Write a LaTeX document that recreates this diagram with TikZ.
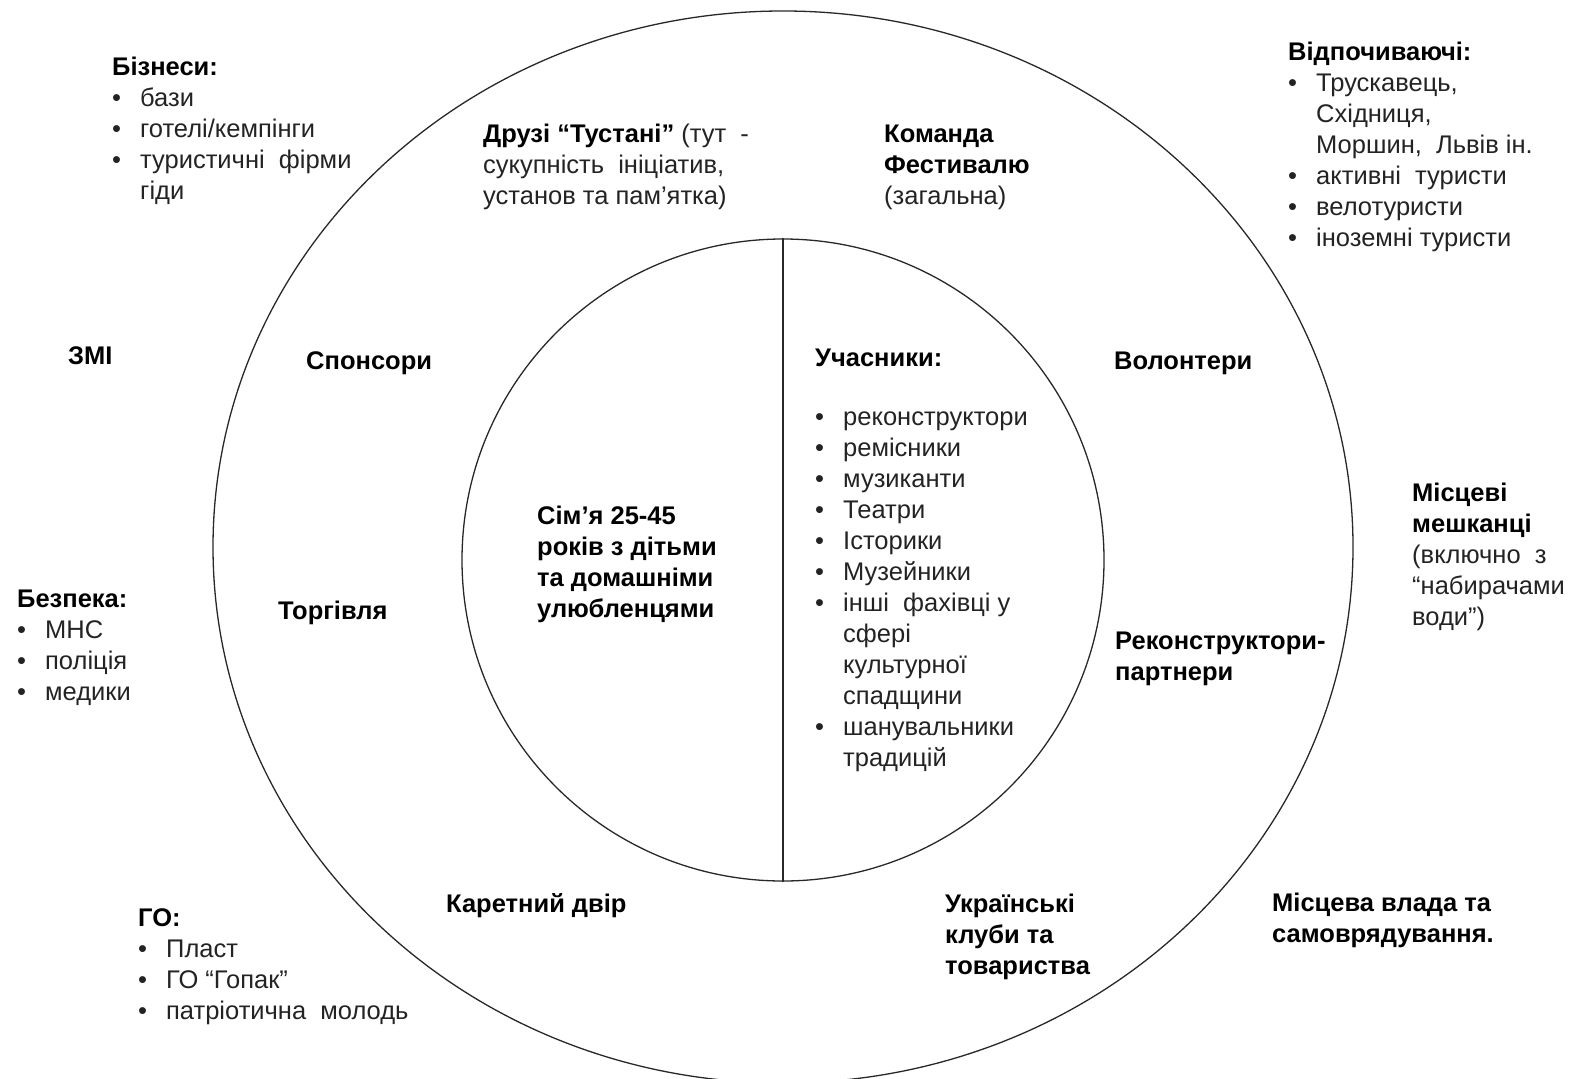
\documentclass[tikz,border=0pt]{standalone}
\usepackage{fontspec}
\setmainfont{Liberation Sans}
\usetikzlibrary{shapes.geometric}
\definecolor{ringcolor}{RGB}{40, 40, 40}
\definecolor{labelcolor}{RGB}{0, 0, 0}
\definecolor{itemcolor}{RGB}{35, 35, 35}
\newcommand{\itm}[1]{\makebox[28pt][l]{\textbullet}#1}
\newcommand{\cont}[1]{\hspace*{28pt}#1}
\newcommand{\lines}[1]{\begin{tabular}[t]{@{}l@{}}#1\end{tabular}}
\tikzset{
grouptext/.style={
  anchor=base west,
  inner sep=0pt,
  font=\fontsize{25.5}{31}\selectfont,
  text=itemcolor
},
headtext/.style={
  grouptext,
  font=\fontsize{25.5}{31}\selectfont\bfseries,
  text=labelcolor
},
ring/.style={
  draw=ringcolor,
  line width=1.3pt,
  inner sep=0pt
}
}

\begin{document}
\begin{tikzpicture}[x=1pt, y=-1pt]
  \useasboundingbox (0,0) rectangle (1570,1078);

  % rings
  \node[ring, ellipse, minimum width=1140pt, minimum height=1072pt] (outer) at (783,547) {};
  \node[ring, circle, minimum size=642pt] (inner) at (783,560) {};
  \draw[ring] (inner.north) -- (inner.south);

  % centre
  \node[headtext] (family) at (537,524) {\lines{Сім’я 25-45\\років з дітьми\\та домашніми\\улюбленцями}};
  \node[grouptext] (members) at (815,366) {\lines{\textbf{\color{labelcolor}Учасники:}\\[28pt]
    \itm{реконструктори}\\ \itm{ремісники}\\ \itm{музиканти}\\ \itm{Театри}\\
    \itm{Історики}\\ \itm{Музейники}\\ \itm{інші\ \ фахівці у}\\ \cont{сфері}\\
    \cont{культурної}\\ \cont{спадщини}\\ \itm{шанувальники}\\ \cont{традицій}}};

  % middle ring
  \node[grouptext] (friends) at (483,143) {\lines{\textbf{\color{labelcolor}Друзі “Тустані”} (тут\ \ -\\сукупність\ \ ініціатив,\\установ та пам’ятка)}};
  \node[grouptext] (team) at (884,143) {\lines{\textbf{\color{labelcolor}Команда}\\\textbf{\color{labelcolor}Фестивалю}\\(загальна)}};
  \node[headtext] (sponsors) at (306,369) {Спонсори};
  \node[headtext] (volunteers) at (1114,369) {Волонтери};
  \node[headtext] (trade) at (278,619) {Торгівля};
  \node[headtext] (reenact) at (1115,649) {\lines{Реконструктори-\\партнери}};
  \node[headtext] (yard) at (446,912) {Каретний двір};
  \node[headtext] (clubs) at (945,912) {\lines{Українські\\клуби та\\товариства}};

  % outside
  \node[grouptext] (biz) at (112,76) {\lines{\textbf{\color{labelcolor}Бізнеси:}\\ \itm{бази}\\ \itm{готелі/кемпінги}\\ \itm{туристичні\ \ фірми}\\ \cont{гіди}}};
  \node[grouptext] (rest) at (1288,61) {\lines{\textbf{\color{labelcolor}Відпочиваючі:}\\ \itm{Трускавець,}\\ \cont{Східниця,}\\ \cont{Моршин,\ \ Львів ін.}\\ \itm{активні\ \ туристи}\\ \itm{велотуристи}\\ \itm{іноземні туристи}}};
  \node[headtext] (media) at (68,364) {ЗМІ};
  \node[grouptext] (locals) at (1412,501) {\lines{\textbf{\color{labelcolor}Місцеві}\\\textbf{\color{labelcolor}мешканці}\\(включно\ \ з\\“набирачами\\води”)}};
  \node[grouptext] (safety) at (17,607) {\lines{\textbf{\color{labelcolor}Безпека:}\\ \itm{МНС}\\ \itm{поліція}\\ \itm{медики}}};
  \node[headtext] (gov) at (1272,911) {\lines{Місцева влада та\\самоврядування.}};
  \node[grouptext] (ngo) at (138,926) {\lines{\textbf{\color{labelcolor}ГО:}\\ \itm{Пласт}\\ \itm{ГО “Гопак”}\\ \itm{патріотична\ \ молодь}}};
\end{tikzpicture}
\end{document}
